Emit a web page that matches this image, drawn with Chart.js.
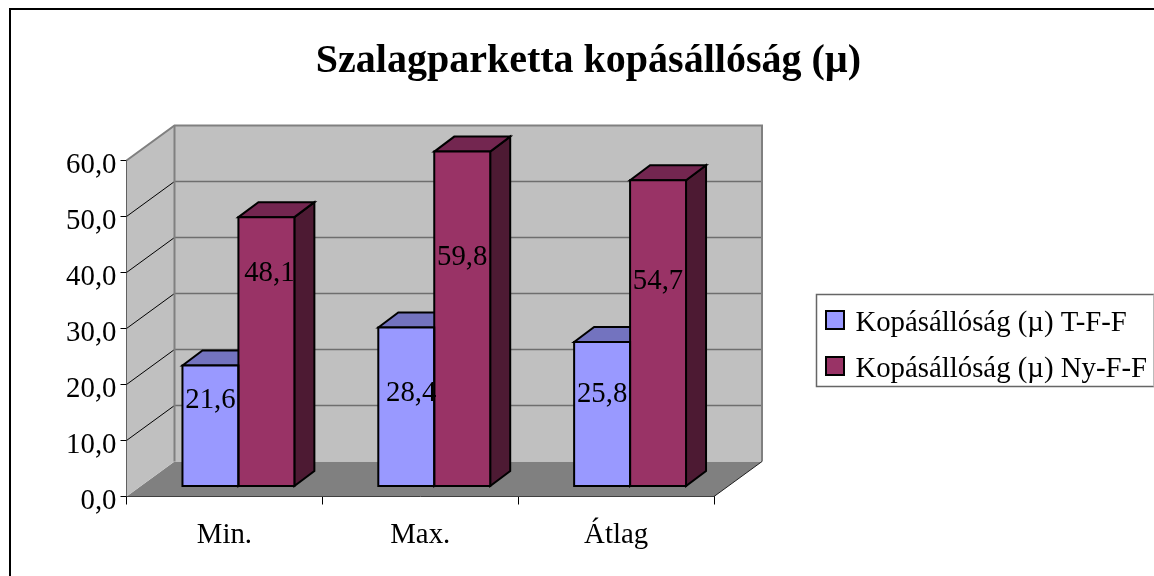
<!DOCTYPE html>
<html><head><meta charset="utf-8">
<style>html,body{margin:0;padding:0;background:#fff}#w{width:1154px;height:576px;position:relative}canvas{display:block}</style>
<script src="https://cdn.jsdelivr.net/npm/chart.js@4"></script></head>
<body><div id="w"><canvas id="c" width="1154" height="576"></canvas></div>
<script>
const categories = ['Min.', 'Max.', 'Átlag'];
const seriesTF = [21.6, 28.4, 25.8];
const seriesNyFF = [48.1, 59.8, 54.7];
const seriesNames = ['Kopásállóság (µ) T-F-F', 'Kopásállóság (µ) Ny-F-F'];
const titleText = 'Szalagparketta kopásállóság (µ)';
const FONT = '"Liberation Serif","Times New Roman",serif';
const FS = 28.8;

// 3D projection offsets (px)
const DEPTH = {x:48, y:-35};
const BAR_SHIFT = {x:14, y:-10};
const BAR_DEPTH = {x:20, y:-15};
const Y_LABEL_SHIFT = 5;
const faces = [
  {front:'#9999ff', top:'#7373bf', side:'#4d4d80'},
  {front:'#993366', top:'#732650', side:'#4d1a33'}
];
// value label nudges relative to the bar's centre-x and top-y
const labelNudge = [
  [{x:0,y:35},{x:5,y:66},{x:0,y:52}],
  [{x:3,y:56},{x:0,y:106},{x:0,y:101}]
];

function poly(ctx, pts, fill, stroke, lw){
  ctx.beginPath();
  pts.forEach((p,i)=> i?ctx.lineTo(p[0],p[1]):ctx.moveTo(p[0],p[1]));
  ctx.closePath();
  if(fill){ctx.fillStyle=fill;ctx.fill();}
  if(stroke){ctx.strokeStyle=stroke;ctx.lineWidth=lw;ctx.lineJoin='miter';ctx.stroke();}
}
const scene = {
  id:'scene',
  afterUpdate(chart){
    const lg = chart.legend;
    lg.left=809; lg.right=1154; lg.top=292; lg.bottom=500; lg.width=345; lg.height=208;
    if(lg.adjustHitBoxes) lg.adjustHitBoxes();
    const t = chart.titleBlock;
    t.left=23; t.right=1154;
    chart.scales.y.getLabelItems().forEach(it=>{
      it.options.translation=[it.options.translation[0],it.options.translation[1]+Y_LABEL_SHIFT];
    });
  },
  beforeDraw(chart){
    const c=chart.ctx; 
    c.save();
    c.fillStyle='#fff'; c.fillRect(0,0,1154,576);
    c.strokeStyle='#000'; c.lineWidth=2;
    c.beginPath();c.moveTo(10,576);c.lineTo(10,9);c.lineTo(1154,9);c.stroke();
    c.restore();
  },
  beforeDatasetsDraw(chart){
    const c=chart.ctx, a=chart.chartArea, y=chart.scales.y, dx=DEPTH.x, dy=DEPTH.y;
    const L=a.left,R=a.right,T=a.top,B=a.bottom;
    c.save();
    // floor
    poly(c,[[L,B],[L+dx,B+dy],[R+dx,B+dy],[R,B]],'#808080');
    // side wall
    poly(c,[[L,T],[L+dx,T+dy],[L+dx,B+dy],[L,B]],'#c0c0c0');
    // back wall
    poly(c,[[L+dx,T+dy],[R+dx,T+dy],[R+dx,B+dy],[L+dx,B+dy]],'#c0c0c0');
    // back gridlines
    c.lineWidth=1.5; c.strokeStyle='#6e6e6e';
    y.ticks.forEach(t=>{
      if(t.value===0||t.value===60) return;
      const py=y.getPixelForValue(t.value)+dy;
      c.beginPath();c.moveTo(L+dx,py);c.lineTo(R+dx,py);c.stroke();
    });
    // side wall gridlines
    c.lineWidth=1; c.strokeStyle='#000';
    y.ticks.forEach(t=>{
      if(t.value===60||t.value===0) return;
      const py=y.getPixelForValue(t.value);
      c.beginPath();c.moveTo(L,py);c.lineTo(L+dx,py+dy);c.stroke();
    });
    // wall outlines
    c.lineWidth=2; c.strokeStyle='#808080';
    c.beginPath();c.moveTo(L,T);c.lineTo(L+dx,T+dy);c.lineTo(R+dx,T+dy);c.lineTo(R+dx,B+dy);c.stroke();
    c.beginPath();c.moveTo(L+dx,T+dy);c.lineTo(L+dx,B+dy);c.stroke();
    // floor front-right edge
    c.lineWidth=1; c.strokeStyle='#222';
    c.beginPath();c.moveTo(R,B);c.lineTo(R+dx,B+dy);c.stroke();
    c.restore();

    // real bars are painted shifted into the depth of the floor
    c.save();
    c.translate(BAR_SHIFT.x,BAR_SHIFT.y);
    chart.data.datasets.forEach((ds,i)=>{
      chart.getDatasetMeta(i).data.forEach(b=>{
        const l=b.x-b.width/2,r=b.x+b.width/2,t=b.y,bs=b.base,X=BAR_DEPTH.x,Y=BAR_DEPTH.y;
        poly(c,[[r,t],[r+X,t+Y],[r+X,bs+Y],[r,bs]],faces[i].side,'#000',2);
        poly(c,[[l,t],[l+X,t+Y],[r+X,t+Y],[r,t]],faces[i].top,'#000',2);
      });
    });
  },
  afterDatasetsDraw(chart){
    const c=chart.ctx;
    chart.data.datasets.forEach((ds,i)=>{
      chart.getDatasetMeta(i).data.forEach(b=>{
        const l=b.x-b.width/2,r=b.x+b.width/2;
        poly(c,[[l,b.y],[r,b.y],[r,b.base],[l,b.base]],null,'#000',2);
      });
    });
    c.restore();
    c.save();
    c.font=FS+'px '+FONT; c.fillStyle='#000'; c.textAlign='center'; c.textBaseline='middle';
    chart.data.datasets.forEach((ds,i)=>{
      chart.getDatasetMeta(i).data.forEach((b,j)=>{
        const n=labelNudge[i][j];
        c.fillText(ds.data[j].toFixed(1).replace('.',','), b.x+BAR_SHIFT.x+n.x, b.y+BAR_SHIFT.y+n.y);
      });
    });
    c.restore();
  },
  afterDraw(chart){
    const c=chart.ctx;
    c.save();
    c.strokeStyle='#666'; c.lineWidth=1.5;
    c.beginPath();c.moveTo(1154,294.5);c.lineTo(816.5,294.5);c.lineTo(816.5,386.5);c.lineTo(1154,386.5);c.stroke();
    c.strokeStyle='#bbb'; c.lineWidth=1;
    c.beginPath();c.moveTo(1153.5,294.5);c.lineTo(1153.5,386.5);c.stroke();
    // legend swatches, slightly above the text baseline centre
    chart.legend.legendItems.forEach((it,i)=>{
      const hb=chart.legend.legendHitBoxes[i];
      poly(c,[[826,311+46*i],[844,311+46*i],[844,329+46*i],[826,329+46*i]],faces[i].front,'#000',2);
    });
    c.restore();
  }
};

new Chart(document.getElementById('c'),{
  type:'bar',
  data:{labels:categories,datasets:[
    {label:seriesNames[0],data:seriesTF,backgroundColor:faces[0].front,borderWidth:0},
    {label:seriesNames[1],data:seriesNyFF,backgroundColor:faces[1].front,borderWidth:0}
  ]},
  options:{
    responsive:false,animation:false,devicePixelRatio:1,
    layout:{padding:{left:0,right:440,top:0,bottom:0}},
    datasets:{bar:{barPercentage:1,categoryPercentage:112/196}},
    scales:{
      x:{
        afterFit(s){s.height=79.5;},
        grid:{drawOnChartArea:false,color:'#000',tickLength:8,tickColor:'#000'},
        border:{color:'#000',width:1},
        ticks:{color:'#000',font:{family:FONT,size:FS},padding:14,maxRotation:0}
      },
      y:{
        min:0,max:60,
        afterFit(s){s.width=126.5;},
        grid:{drawOnChartArea:false,color:'#000',tickLength:6,tickColor:'#000'},
        border:{color:'#000',width:1},
        ticks:{stepSize:10,color:'#000',font:{family:FONT,size:FS},padding:4,callback:v=>v.toFixed(1).replace('.',',')}
      }
    },
    plugins:{
      tooltip:{enabled:false},
      title:{display:true,text:titleText,color:'#000',font:{family:FONT,size:40,weight:'bold',lineHeight:1.2},padding:{top:38,bottom:74.5}},
      legend:{display:true,position:'chartArea',align:'start',
        labels:{color:'#000',font:{family:FONT,size:FS},boxWidth:15,boxHeight:18,padding:17,
          generateLabels(chart){
            return chart.data.datasets.map((d,i)=>({text:d.label,fillStyle:'rgba(0,0,0,0)',strokeStyle:'rgba(0,0,0,0)',lineWidth:0,datasetIndex:i,hidden:false}));
          }}}
    }
  },
  plugins:[scene]
});
</script></body></html>
